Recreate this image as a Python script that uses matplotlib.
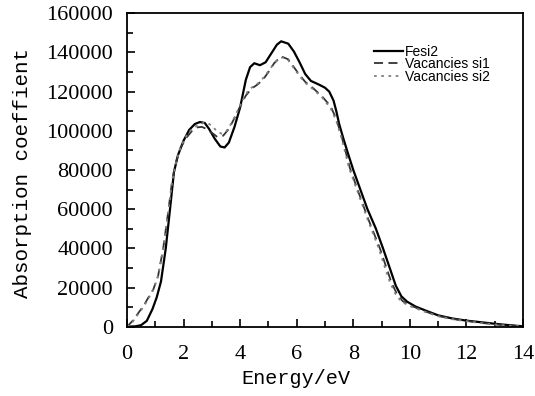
import numpy as np
import matplotlib
matplotlib.use('Agg')
import matplotlib.pyplot as plt
from matplotlib.ticker import MultipleLocator

# Values.
e_fesi2 = [0.0, 0.3, 0.5, 0.7, 0.9, 1.05, 1.2, 1.37, 1.52, 1.66, 1.8, 2.0, 2.2, 2.4, 2.58,
           2.75, 2.9, 3.1, 3.3, 3.45, 3.6, 3.8, 4.0, 4.2, 4.35, 4.5, 4.7, 4.9, 5.1, 5.3,
           5.45, 5.7, 5.9, 6.1, 6.3, 6.5, 6.8, 7.0, 7.15, 7.3, 7.4, 7.5, 7.65, 7.8, 8.0,
           8.3, 8.5, 8.8, 9.05, 9.3, 9.5, 9.7, 9.9, 10.2, 10.6, 11.0, 11.5, 12.0, 12.5,
           13.0, 13.5, 14.0]
a_fesi2 = [0, 200, 800, 3000, 9000, 15000, 23000, 40000, 60000, 79000, 87500, 95000, 100500,
           103500, 104500, 104000, 101000, 96000, 92000, 91500, 94000, 102000, 112000, 126000,
           132500, 134500, 133500, 135000, 139500, 144000, 145700, 144500, 140500, 135000,
           129000, 125500, 123500, 122000, 120000, 115500, 110000, 103500, 96000, 89000,
           80000, 68000, 60000, 50000, 40000, 29500, 21000, 15500, 12800, 10300, 8000, 5800,
           4200, 3100, 2300, 1500, 800, 200]

e_si1 = [0.0, 0.2, 0.4, 0.6, 0.8, 0.93, 1.1, 1.28, 1.45, 1.6, 1.75, 1.9, 2.1, 2.3, 2.5,
         2.65, 2.8, 3.0, 3.2, 3.4, 3.6, 3.8, 4.0, 4.2, 4.4, 4.6, 4.8, 5.0, 5.2, 5.45,
         5.7, 5.9, 6.1, 6.3, 6.6, 6.9, 7.2, 7.4, 7.6, 7.88, 8.2, 8.5, 8.94, 9.15, 9.35,
         9.55, 9.75, 10.0, 10.5, 11.0, 11.5, 12.0, 12.5, 13.0, 13.5, 14.0]
a_si1 = [0, 3000, 7000, 11000, 16000, 19000, 26000, 40000, 58000, 75000, 85000, 91500, 96500,
         100000, 101800, 102000, 101000, 99000, 96800, 97500, 101000, 106500, 112500, 118000,
         121500, 123500, 126000, 130000, 134500, 138000, 136500, 132500, 128500, 125000,
         121500, 117500, 112500, 106000, 96500, 81000, 68000, 56000, 40000, 31000, 22500,
         16500, 13000, 11000, 8000, 5500, 4000, 3000, 2000, 1200, 600, 200]

e_si2 = [0.0, 0.2, 0.4, 0.6, 0.8, 0.95, 1.1, 1.28, 1.45, 1.6, 1.75, 1.9, 2.1, 2.3, 2.5,
         2.7, 2.85, 3.0, 3.2, 3.35, 3.5, 3.7, 3.9, 4.1, 4.3, 4.5, 4.7, 4.9, 5.1, 5.3,
         5.5, 5.7, 5.9, 6.1, 6.3, 6.6, 6.9, 7.2, 7.4, 7.6, 7.85, 8.2, 8.5, 8.9, 9.1, 9.3,
         9.5, 9.7, 10.0, 10.5, 11.0, 11.5, 12.0, 12.5, 13.0, 13.5, 14.0]
a_si2 = [0, 2500, 6500, 10500, 15500, 19500, 26000, 40000, 58000, 74500, 85000, 92000, 97500,
         101000, 103000, 104000, 104000, 102500, 99500, 98500, 99500, 104000, 110000, 116000,
         121000, 123000, 125000, 128500, 132500, 136000, 137500, 136000, 132000, 128000,
         124500, 121000, 117000, 111500, 105000, 95500, 81000, 67000, 55000, 40000, 31000,
         22500, 16500, 12800, 10500, 7800, 5300, 3800, 2800, 1900, 1100, 500, 100]

labels = ['Fesi2', 'Vacancies si1', 'Vacancies si2']

fig = plt.figure(figsize=(5.35, 3.96), dpi=100)
ax = fig.add_axes([0.2374, 0.175, 0.7402, 0.7914])

ax.plot(e_fesi2, a_fesi2, color='black', lw=1.6, label=labels[0])
ax.plot(e_si1, a_si1, color='#333333', lw=1.3, dashes=(5, 3), label=labels[1])
ax.plot(e_si2, a_si2, color='#808080', lw=1.3, dashes=(1.5, 2.5), label=labels[2])

ax.set_xlim(0, 14)
ax.set_ylim(0, 160000)
ax.xaxis.set_major_locator(MultipleLocator(2))
ax.xaxis.set_minor_locator(MultipleLocator(1))
ax.yaxis.set_major_locator(MultipleLocator(20000))
ax.yaxis.set_minor_locator(MultipleLocator(10000))
ax.tick_params(which='both', direction='in', top=False, right=False, width=1.2)
ax.tick_params(which='major', length=6)
ax.tick_params(which='minor', length=4)
ax.tick_params(axis='x', pad=13, labelsize=16)
ax.tick_params(axis='y', pad=10, labelsize=16)
for lab in ax.get_xticklabels() + ax.get_yticklabels():
    lab.set_fontfamily('Liberation Serif')
for sp in ax.spines.values():
    sp.set_linewidth(1.3)

ax.set_xlabel('Energy/eV', family='Liberation Mono', fontsize=14.5)
ax.set_ylabel('Absorption coeffient', family='Liberation Mono', fontsize=15)
ax.xaxis.set_label_coords(0.427, -0.135)
ax.yaxis.set_label_coords(-0.24, 0.49)

ax.legend(loc='upper left', bbox_to_anchor=(0.61, 0.918), frameon=False,
          prop={'family': 'Liberation Sans', 'size': 10}, handlelength=2.1,
          handletextpad=0.1, labelspacing=-0.1, borderaxespad=0)

fig.savefig('out.png', dpi=100)
